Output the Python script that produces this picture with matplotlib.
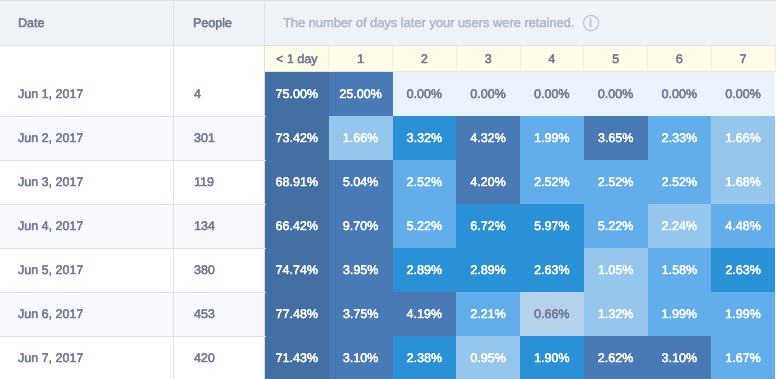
import matplotlib
matplotlib.use('Agg')
from matplotlib import pyplot as plt
from matplotlib import patheffects
from matplotlib.colors import ListedColormap, BoundaryNorm
from matplotlib.patches import Rectangle, Circle
import numpy as np

plt.rcParams['font.family'] = ['Liberation Sans', 'DejaVu Sans']

dates = ['Jun 1, 2017', 'Jun 2, 2017', 'Jun 3, 2017', 'Jun 4, 2017', 'Jun 5, 2017', 'Jun 6, 2017', 'Jun 7, 2017']
people = [4, 301, 119, 134, 380, 453, 420]
days = ['< 1 day', '1', '2', '3', '4', '5', '6', '7']
retention = [
    [75.00, 25.00, 0.00, 0.00, 0.00, 0.00, 0.00, 0.00],
    [73.42, 1.66, 3.32, 4.32, 1.99, 3.65, 2.33, 1.66],
    [68.91, 5.04, 2.52, 4.20, 2.52, 2.52, 2.52, 1.68],
    [66.42, 9.70, 5.22, 6.72, 5.97, 5.22, 2.24, 4.48],
    [74.74, 3.95, 2.89, 2.89, 2.63, 1.05, 1.58, 2.63],
    [77.48, 3.75, 4.19, 2.21, 0.66, 1.32, 1.99, 1.99],
    [71.43, 3.10, 2.38, 0.95, 1.90, 2.62, 3.10, 1.67],
]

TEXT = '#747a94'
LINE = '#dde1ea'
FS = 9


def label(x, y, s, color=TEXT, ha='left', size=FS):
    # regular face with a thin outline, the original is a medium weight
    t = ax.text(x, y, s, color=color, fontsize=size, ha=ha)
    t.set_path_effects([patheffects.withStroke(linewidth=0.35, foreground=color)])
    return t


# shade = share of the biggest value in the row (without the first day)
vals = np.array(retention)
shade = vals / vals[:, 1:].max(axis=1, keepdims=True)
shade[:, 0] = 2
cmap = ListedColormap(['#eaf2fb', '#b5d2ec', '#97c6ec', '#62aeea', '#2b91d6', '#4a7ab6', '#446fa2'])
norm = BoundaryNorm([-1, 0.001, 0.2, 0.4, 0.6, 0.8, 1.5, 3], cmap.N)

fig = plt.figure(figsize=(7.76, 3.79), dpi=100)
ax = fig.add_axes([0, 0, 1, 1])
ax.set_xlim(0, 776)
ax.set_ylim(379, 0)
ax.axis('off')

col_x = np.linspace(265, 775, len(days) + 1)
row_y = np.linspace(72, 380, len(dates) + 1)

# header and alternating rows
ax.add_patch(Rectangle((0, 0), 776, 45, fc='#eff2f6', ec='none'))
for i in range(len(dates)):
    if i % 2 == 1:
        ax.add_patch(Rectangle((0, row_y[i]), 265, row_y[i + 1] - row_y[i], fc='#f8f9fe', ec='none'))
ax.add_patch(Rectangle((col_x[0], 45), col_x[-1] - col_x[0], 26, fc='#fffde8', ec='none'))

ax.pcolormesh(col_x, row_y, shade, cmap=cmap, norm=norm, edgecolors='none')

# table lines
ax.plot([0, 776], [0, 0], color=LINE, lw=0.72)
ax.plot([0, 776], [45, 45], color=LINE, lw=0.72)
ax.plot([265, 775], [71, 71], color='#e6e6df', lw=0.72)
for y in row_y[1:-1]:
    ax.plot([0, 265], [y - 0.5, y - 0.5], color=LINE, lw=0.72)
ax.plot([173, 173], [0, 379], color=LINE, lw=0.72)
ax.plot([264, 264], [0, 379], color=LINE, lw=0.72)
for x in col_x[1:]:
    ax.plot([x - 0.5, x - 0.5], [46, 71], color='#f2efd6', lw=0.72)

# header text
label(18, 27, 'Date')
label(193, 27, 'People')
label(283, 27, 'The number of days later your users were retained.', color='#b4bbce', size=9.25)
ax.add_patch(Circle((591, 23), 7.5, fc='none', ec='#c3c9d8', lw=1))
label(591, 27, 'i', color='#b4bbce', ha='center')

for j, day in enumerate(days):
    label((col_x[j] + col_x[j + 1]) / 2, 63, day, ha='center')

for i, date in enumerate(dates):
    yc = (row_y[i] + row_y[i + 1]) / 2 + 4
    label(18, yc, date)
    label(194, yc, str(people[i]))
    for j in range(len(days)):
        # pale cells get the grey text
        color = TEXT if shade[i, j] < 0.2 else 'white'
        label((col_x[j] + col_x[j + 1]) / 2, yc, '%.2f%%' % retention[i][j], color=color, ha='center')

fig.savefig('out.png', dpi=100)
